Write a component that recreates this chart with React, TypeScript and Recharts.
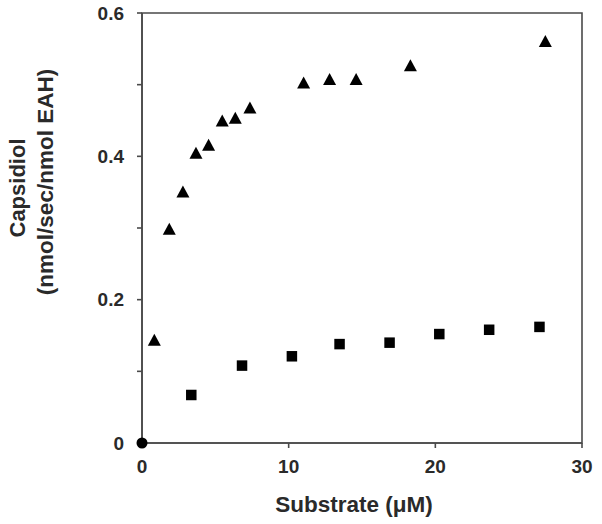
import { ScatterChart, Scatter, XAxis, YAxis, ReferenceArea, Label } from "recharts"

// triangles: upper series
const triangleX = [0.84, 1.86, 2.79, 3.68, 4.54, 5.47, 6.36, 7.36, 11.02, 12.79, 14.6, 18.3, 27.5]
const triangleY = [0.144, 0.299, 0.351, 0.405, 0.416, 0.45, 0.454, 0.468, 0.503, 0.508, 0.508, 0.527, 0.561]
// squares: lower series
const squareX = [3.36, 6.82, 10.22, 13.47, 16.88, 20.27, 23.67, 27.1]
const squareY = [0.067, 0.108, 0.121, 0.138, 0.14, 0.152, 0.158, 0.162]
// the single point at the origin
const originX = [0]
const originY = [0]

const xTicks = [0, 10, 20, 30]
const yTicks = [0, 0.1, 0.2, 0.3, 0.4, 0.5, 0.6]

const toPoints = (xs: number[], ys: number[]) => xs.map((x, i) => ({ x, y: ys[i] }))

const FONT = '"Liberation Sans", Arial, sans-serif'
const AXIS = "#4a4a4a"
const TEXT = "#2a2a2a"

const Triangle = (p: any) => {
  const { cx, cy } = p
  const w = 13
  const h = 12
  return (
    <polygon
      points={`${cx - w / 2},${cy + h / 2} ${cx + w / 2},${cy + h / 2} ${cx},${cy - h / 2}`}
      fill="#000"
    />
  )
}

const Square = (p: any) => {
  const { cx, cy } = p
  const s = 10.5
  return <rect x={cx - s / 2} y={cy - s / 2} width={s} height={s} fill="#000" />
}

const Dot = (p: any) => <circle cx={p.cx} cy={p.cy} r={5.5} fill="#000" />

const yTickFmt = (v: number) => {
  const k = Math.round(v * 10)
  if (k % 2 !== 0) return ""
  return k === 0 ? "0" : v.toFixed(1)
}

const YTitle = (props: any) => {
  const vb = props.viewBox
  const cy = vb.y + vb.height / 2 - 43
  return (
    <g fontFamily={FONT} fontWeight="bold" fill={TEXT}>
      <text transform={`translate(25, ${cy + 3}) rotate(-90)`} textAnchor="middle" fontSize={22}>
        Capsidiol
      </text>
      <text transform={`translate(53, ${cy - 3}) rotate(-90)`} textAnchor="middle" fontSize={22.5}>
        (nmol/sec/nmol EAH)
      </text>
    </g>
  )
}

export default function App() {
  return (
    <div style={{ position: "absolute", left: 0, top: 0, background: "#fff" }}>
      <ScatterChart width={602} height={524} margin={{ top: 13, right: 20, bottom: 0, left: 0 }}>
        <XAxis
          type="number"
          dataKey="x"
          domain={[0, 30]}
          ticks={xTicks}
          height={81}
          stroke={AXIS}
          strokeWidth={1.6}
          tickSize={5}
          tickMargin={12}
          tick={{ fill: TEXT, fontSize: 19, fontWeight: "bold", fontFamily: FONT }}
        >
          <Label
            value="Substrate (μM)"
            position="insideBottom"
            offset={12}
            dx={-8}
            style={{ fill: TEXT, fontSize: 22.5, fontWeight: "bold", fontFamily: FONT }}
          />
        </XAxis>
        <YAxis
          type="number"
          dataKey="y"
          domain={[0, 0.6]}
          ticks={yTicks}
          width={142}
          stroke={AXIS}
          strokeWidth={1.6}
          tickSize={5}
          tickMargin={13}
          tickFormatter={yTickFmt}
          tick={{ fill: TEXT, fontSize: 19, fontWeight: "bold", fontFamily: FONT }}
        >
          <Label content={<YTitle />} />
        </YAxis>
        <ReferenceArea x1={0} x2={30} y1={0} y2={0.6} fill="none" stroke={AXIS} strokeWidth={1.6} />
        <Scatter data={toPoints(squareX, squareY)} shape={Square} isAnimationActive={false} />
        <Scatter data={toPoints(triangleX, triangleY)} shape={Triangle} isAnimationActive={false} />
        <Scatter data={toPoints(originX, originY)} shape={Dot} isAnimationActive={false} />
      </ScatterChart>
    </div>
  )
}
